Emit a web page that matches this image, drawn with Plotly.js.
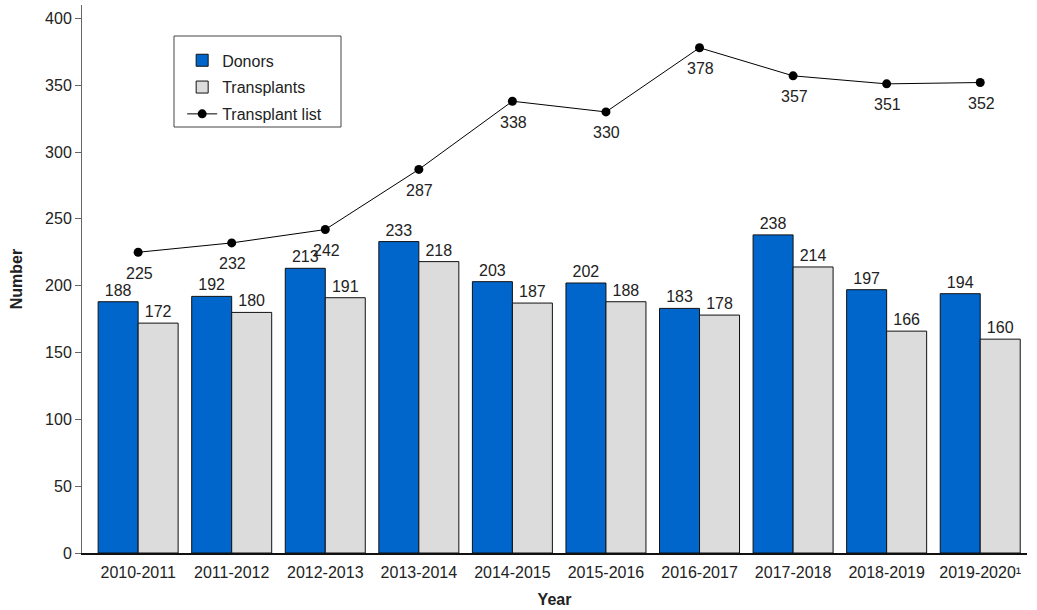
<!DOCTYPE html>
<html>
<head>
<meta charset="utf-8">
<script src="https://cdn.plot.ly/plotly-3.0.1.min.js"></script>
<style>html,body{margin:0;padding:0;background:#fff;}#chart{width:1037px;height:610px;}</style>
</head>
<body>
<div id="chart"></div>
<script>
const years = ["2010-2011","2011-2012","2012-2013","2013-2014","2014-2015","2015-2016","2016-2017","2017-2018","2018-2019","2019-2020¹"];
const donors = [188,192,213,233,203,202,183,238,197,194];
const transplants = [172,180,191,218,187,188,178,214,166,160];
const transplantList = [225,232,242,287,338,330,378,357,351,352];

const FS = 16;
const font = {family: "Liberation Sans, Arial, sans-serif", size: FS, color: "#222"};

const traces = [
  {type: "bar", name: "Donors", x: years, y: donors, legendgroup: "a",
   marker: {color: "#0066CC", line: {color: "#111", width: 1}},
   text: donors.map(String), textposition: "outside", cliponaxis: false,
   textfont: {size: FS, color: "#222"}},
  {type: "bar", name: "Transplants", x: years, y: transplants, legendgroup: "b",
   marker: {color: "#DCDCDC", line: {color: "#111", width: 1}},
   text: transplants.map(String), textposition: "outside", cliponaxis: false,
   textfont: {size: FS, color: "#222"}},
  {type: "scatter", mode: "lines+markers", name: "Transplant list", x: years, y: transplantList, legendgroup: "c",
   line: {color: "#000", width: 1}, marker: {color: "#000", size: 9}, cliponaxis: false}
];

const annotations = years.map((yr, i) => ({
  x: yr, y: transplantList[i], xref: "x", yref: "y",
  text: String(transplantList[i]), showarrow: false, yshift: -21, xshift: 1,
  font: {size: FS, color: "#222"}
}));

const layout = {
  width: 1037, height: 610,
  margin: {l: 82, r: 10, t: 5, b: 57},
  paper_bgcolor: "#fff", plot_bgcolor: "#fff",
  font: font,
  barmode: "group", bargap: 0.145, bargroupgap: 0,
  showlegend: true,
  legend: {x: 0.106, y: 0.93, xanchor: "left", yanchor: "top",
           bgcolor: "rgba(0,0,0,0)", borderwidth: 0, font: {size: FS, color: "#222"},
           traceorder: "grouped", tracegroupgap: 3},
  annotations: annotations,
  shapes: [{type: "rect", xref: "paper", yref: "paper",
            x0: (174-82)/945, x1: (341-82)/945, y0: (553-127)/548, y1: (553-36)/548,
            line: {color: "#444", width: 1}, fillcolor: "rgba(0,0,0,0)", layer: "below"}],
  xaxis: {type: "category", range: [-0.6, 9.5], showline: true, linecolor: "#111", linewidth: 1.5,
          ticks: "", showgrid: false, zeroline: false, tickfont: {size: FS, color: "#222"},
          ticklabelstandoff: 4,
          title: {text: "<b>Year</b>", font: {size: FS, color: "#222"}, standoff: 14}},
  yaxis: {range: [0, 410], dtick: 50, tick0: 0, showline: true, linecolor: "#666", linewidth: 1,
          ticks: "outside", ticklen: 6, tickcolor: "#666", showgrid: false, zeroline: false,
          tickfont: {size: FS, color: "#222"},
          title: {text: "<b>Number</b>", font: {size: FS, color: "#222"}, standoff: 18}}
};

Plotly.newPlot("chart", traces, layout, {displayModeBar: false, staticPlot: true});
</script>
</body>
</html>
